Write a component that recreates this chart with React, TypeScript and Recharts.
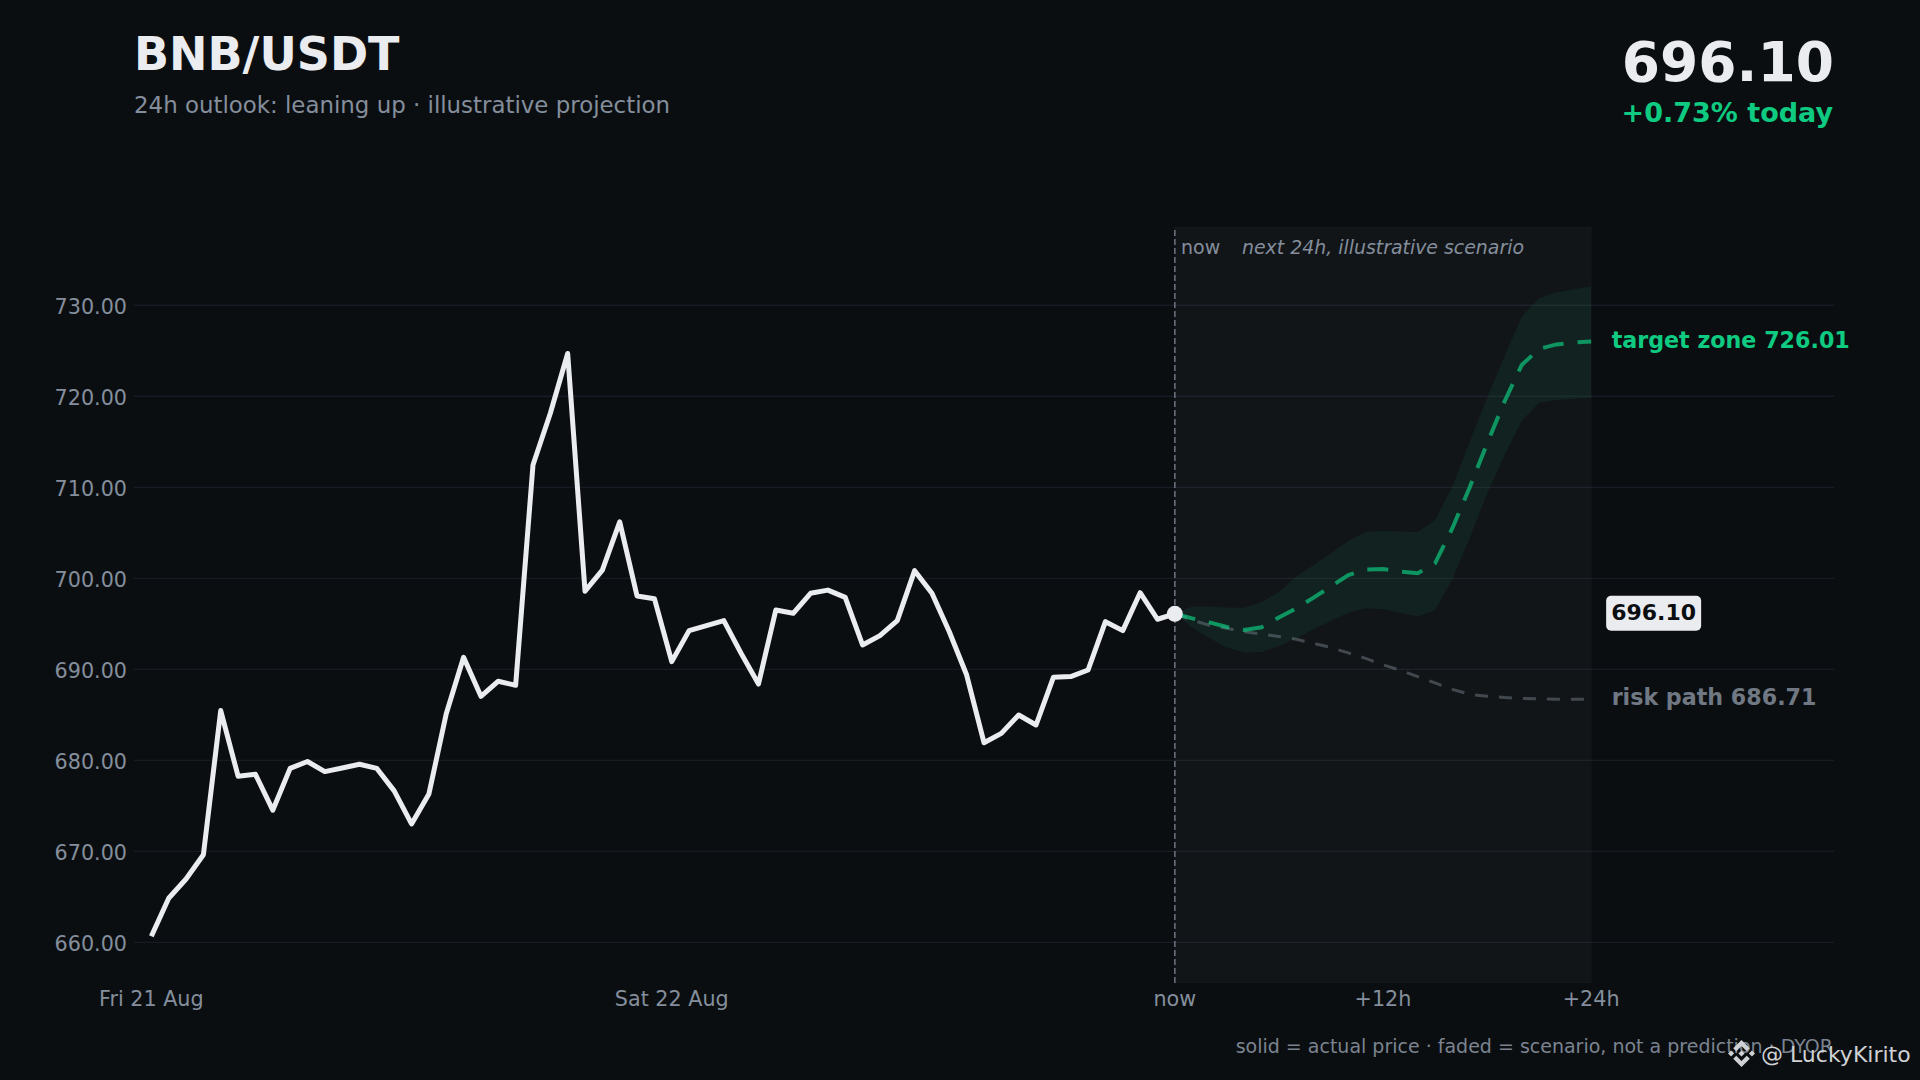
import React from 'react';
import { ComposedChart, Line, Area, XAxis, YAxis, CartesianGrid, ReferenceArea, ReferenceLine, ReferenceDot } from 'recharts';

const FONT = '"DejaVu Sans", sans-serif';
const BG = '#0b0e11';
const TEXT = '#eaecef';
const GREEN = '#0ecb81';
const GREY = '#848e9c';

// hourly closes, first point is Fri 21 Aug
const priceValues = [
  660.66, 664.84, 666.96, 669.63, 685.47, 678.25, 678.46, 674.52, 679.11, 679.87,
  678.76, 679.16, 679.57, 679.11, 676.64, 673.01, 676.29, 685.11, 691.32, 687.03,
  688.69, 688.24, 712.44, 718.14, 724.7, 698.58, 700.9, 706.2, 698.05, 697.76,
  690.84, 694.25, 694.8, 695.35, 691.75, 688.38, 696.52, 696.15, 698.35, 698.7,
  697.9, 692.67, 693.7, 695.35, 700.84, 698.35, 694.13, 689.37, 681.93, 682.96,
  684.98, 683.88, 689.12, 689.2, 689.92, 695.23, 694.25, 698.42, 695.5, 696.1,
];

// next 24h, one value per hour starting at "now"
const targetPath = [
  696.1, 695.6, 695.16, 694.65, 694.32, 694.62, 695.7, 696.7, 697.87, 699.1,
  700.36, 700.95, 701.02, 700.73, 700.55, 701.65, 705.5, 710, 714.8, 719.4,
  723.44, 725.2, 725.7, 725.9, 726.01,
];
const upperBand = [
  696.1, 696.9, 696.9, 696.8, 696.77, 697.4, 698.5, 700.2, 701.46, 702.76,
  704.1, 705.1, 705.2, 705.15, 705.1, 706.4, 710.07, 715, 719.8, 724.4,
  728.75, 730.8, 731.4, 731.76, 732.05,
];
const lowerBand = [
  696.1, 694.6, 693.4, 692.4, 691.85, 691.9, 692.56, 693.4, 694.4, 695.3,
  696.2, 696.7, 696.6, 696.2, 695.8, 696.5, 699.9, 704.4, 709.3, 713.5,
  717.3, 719.3, 719.6, 719.7, 719.8,
];
const riskPath = [
  696.1, 695.4, 694.84, 694.5, 694.13, 693.88, 693.6, 693.3, 692.85, 692.4,
  691.8, 691.2, 690.5, 689.9, 689.2, 688.5, 687.8, 687.25, 687.05, 686.9,
  686.8, 686.74, 686.72, 686.71, 686.71,
];

const yTicks = [660, 670, 680, 690, 700, 710, 720, 730];
const xTicks = [0, 30, 59, 71, 83];
const xTickLabels: Record<number, string> = { 0: 'Fri 21 Aug', 30: 'Sat 22 Aug', 59: 'now', 71: '+12h', 83: '+24h' };

const NOW = priceValues.length - 1;
const END = NOW + targetPath.length - 1;
const lastPrice = priceValues[NOW];
const targetEnd = targetPath[targetPath.length - 1];
const riskEnd = riskPath[riskPath.length - 1];

const rows: any[] = [];
for (let h = 0; h <= END; h++) {
  const f = h - NOW;
  rows.push({
    h,
    price: f <= 0 ? priceValues[h] : null,
    target: f >= 0 ? targetPath[f] : null,
    risk: f >= 0 ? riskPath[f] : null,
    band: f >= 0 ? [lowerBand[f], upperBand[f]] : null,
  });
}

const endLabel = (text: string, color: string) => (props: any) => (
  <text x={props.cx + 20.5} y={props.cy + 6} fill={color} fontSize={22.2} fontWeight="bold" fontFamily={FONT}>
    {text}
  </text>
);

const priceTag = (props: any) => (
  <g>
    <rect x={props.cx + 15} y={props.cy - 18} width={95} height={35} rx={5} fill={TEXT} />
    <text x={props.cx + 62.5} y={props.cy + 6} textAnchor="middle" fill={BG} fontSize={22} fontWeight="bold" fontFamily={FONT}>
      {lastPrice.toFixed(2)}
    </text>
  </g>
);

const axisTick = { fill: GREY, fontSize: 20.7, fontFamily: FONT };

export default function App() {
  return (
    <div style={{ position: 'absolute', left: 0, top: 0, width: 1920, height: 1080, background: BG, overflow: 'hidden' }}>
      <ComposedChart
        width={1920}
        height={1080}
        data={rows}
        margin={{ top: 227, right: 86, bottom: 0, left: 0 }}
      >
        <ReferenceArea x1={NOW} x2={END} fill="#ffffff" fillOpacity={0.033} stroke="#ffffff" strokeOpacity={0.03} ifOverflow="hidden" />
        <CartesianGrid vertical={false} horizontalValues={yTicks} stroke="#171b24" strokeWidth={1.3} />
        <XAxis
          type="number"
          dataKey="h"
          domain={[-1, 97]}
          ticks={xTicks}
          tickFormatter={(v: number) => xTickLabels[v]}
          tick={axisTick}
          axisLine={false}
          tickLine={false}
          tickMargin={2}
          height={97}
          interval={0}
        />
        <YAxis
          type="number"
          domain={[655.53, 738.6]}
          ticks={yTicks}
          tickFormatter={(v: number) => v.toFixed(2)}
          tick={{ ...axisTick, dy: 1 }}
          axisLine={false}
          tickLine={false}
          tickMargin={1}
          width={134}
          interval={0}
        />
        <Area dataKey="band" fill={GREEN} fillOpacity={0.075} stroke="none" isAnimationActive={false} dot={false} activeDot={false} />
        <ReferenceLine x={NOW} stroke={GREY} strokeOpacity={0.75} strokeWidth={1.6} strokeDasharray="6 3" />
        <Line dataKey="risk" stroke={GREY} strokeOpacity={0.42} strokeWidth={3} strokeDasharray="13 11" dot={false} activeDot={false} isAnimationActive={false} />
        <Line dataKey="target" stroke={GREEN} strokeOpacity={0.68} strokeWidth={4} strokeDasharray="21 14" dot={false} activeDot={false} isAnimationActive={false} />
        <Line dataKey="price" stroke={TEXT} strokeWidth={5} strokeLinejoin="round" dot={false} activeDot={false} isAnimationActive={false} />
        <ReferenceDot x={NOW} y={lastPrice} r={8} fill={TEXT} stroke="none" />
        <ReferenceDot x={END} y={targetEnd} r={0} shape={endLabel(`target zone ${targetEnd.toFixed(2)}`, GREEN)} />
        <ReferenceDot x={END} y={riskEnd} r={0} shape={endLabel(`risk path ${riskEnd.toFixed(2)}`, '#6f7883')} />
        <ReferenceDot x={END} y={lastPrice} r={0} shape={priceTag} />
      </ComposedChart>

      {/* header, notes and watermark */}
      <svg width={1920} height={1080} style={{ position: 'absolute', left: 0, top: 0, pointerEvents: 'none' }} fontFamily={FONT}>
        <text x={134} y={70} fontSize={46} fontWeight="bold" fill={TEXT}>BNB/USDT</text>
        <text x={134} y={113} fontSize={22.9} fill={GREY}>24h outlook: leaning up · illustrative projection</text>
        <text x={1834} y={81} textAnchor="end" fontSize={55} fontWeight="bold" fill={TEXT}>696.10</text>
        <text x={1833} y={121.5} textAnchor="end" fontSize={27} fontWeight="bold" fill={GREEN}>+0.73% today</text>
        <text x={1181} y={254} fontSize={19} fill={GREY}>now</text>
        <text x={1242} y={254} fontSize={18.9} fontStyle="italic" fill={GREY}>next 24h, illustrative scenario</text>
        <text x={1833} y={1053} textAnchor="end" fontSize={19} fill="#7b8490">solid = actual price · faded = scenario, not a prediction · DYOR</text>
        <g transform="translate(1728 1040) scale(0.2133)" fill="#cfd1d4">
          <path d="M38.73 53.2l24.59-24.58 24.6 24.6 14.3-14.31L63.32 0 24.42 38.9l14.31 14.3zM0 63.31l14.3-14.31 14.31 14.31-14.31 14.3zM38.73 73.41l24.59 24.59 24.6-24.6 14.31 14.29-38.9 38.91-38.91-38.88-.02-.02 14.33-14.29zM97.99 63.31l14.3-14.3 14.32 14.3-14.31 14.32zM77.83 63.3L63.32 48.78 52.59 59.51l-1.24 1.23-2.54 2.54 14.51 14.52 14.51-14.5z" />
        </g>
        <text x={1761} y={1062} fontSize={22} fill="#cfd1d4">@ LuckyKirito</text>
      </svg>
    </div>
  );
}
